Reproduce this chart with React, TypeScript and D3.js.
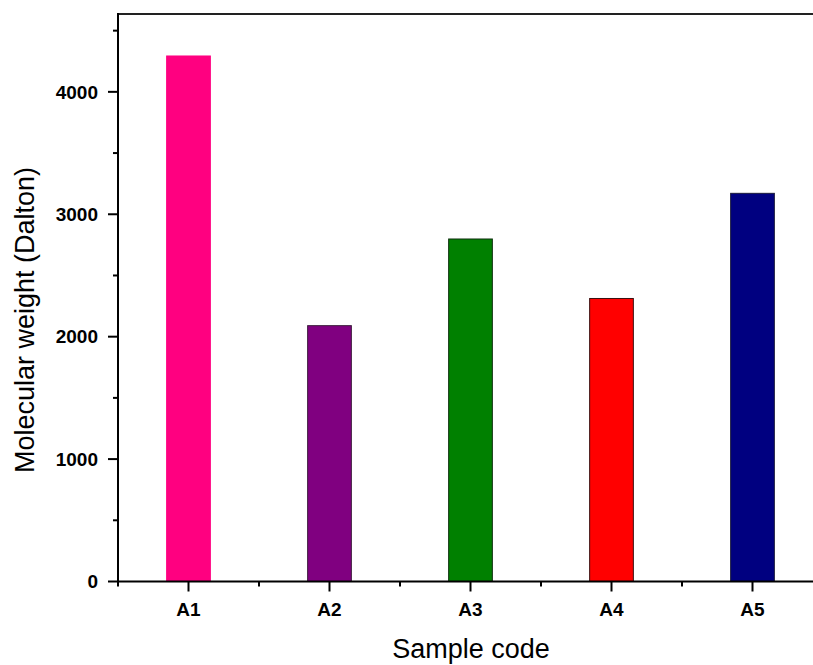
import React from "react";
import * as d3 from "d3";

const categories = ["A1", "A2", "A3", "A4", "A5"];
const values = [4293, 2090, 2798, 2312, 3171];
const barColors = ["#FF0080", "#800080", "#008000", "#FF0000", "#000080"];
const barStrokes = ["#FF0080", "#3a1a3a", "#0f2f0f", "#3a1010", "#1a1a3a"];
const yMajorTicks = [0, 1000, 2000, 3000, 4000];
const yMinorTicks = [500, 1500, 2500, 3500, 4500];
const xMinorTicks = [0.5, 1.5, 2.5, 3.5, 4.5];
const yMax = 4636;

const W = 813;
const H = 665;
const left = 118;
const top = 14;
const bottom = 581.5;
const step = 141;

export default function App() {
  const x = d3.scaleLinear().domain([0.5, 5.5]).range([left, left + 5 * step]);
  const y = d3.scaleLinear().domain([0, yMax]).range([bottom, top]);
  const bw = step * 0.31;
  const font = "'Liberation Sans', Arial, Helvetica, sans-serif";
  return (
    <svg
      width={W}
      height={H}
      style={{ position: "absolute", left: 0, top: 0, background: "#fff" }}
      fontFamily={font}
    >
      <rect x={0} y={0} width={W} height={H} fill="#fff" />
      {values.map((v, i) => (
        <rect
          key={categories[i]}
          x={x(i + 1) - bw / 2}
          y={y(v)}
          width={bw}
          height={y(0) - y(v)}
          fill={barColors[i]}
          stroke={barStrokes[i]}
          strokeWidth={1}
        />
      ))}
      <line x1={left} x2={W} y1={top} y2={top} stroke="#222" strokeWidth={2} />
      <line x1={left} x2={W} y1={bottom} y2={bottom} stroke="#000" strokeWidth={2} />
      <line x1={left} x2={left} y1={top - 1} y2={bottom + 1} stroke="#000" strokeWidth={2} />
      {yMajorTicks.map((t) => (
        <g key={"ym" + t}>
          <line x1={left - 10} x2={left} y1={y(t)} y2={y(t)} stroke="#000" strokeWidth={2} />
          <text
            x={left - 20}
            y={y(t)}
            dy="0.35em"
            textAnchor="end"
            fontSize={19}
            fontWeight="bold"
          >
            {t}
          </text>
        </g>
      ))}
      {yMinorTicks.map((t) => (
        <line key={"yn" + t} x1={left - 5} x2={left} y1={y(t)} y2={y(t)} stroke="#000" strokeWidth={2} />
      ))}
      {categories.map((c, i) => (
        <g key={"xm" + c}>
          <line x1={x(i + 1)} x2={x(i + 1)} y1={bottom} y2={bottom + 10} stroke="#000" strokeWidth={2} />
          <text x={x(i + 1)} y={616} textAnchor="middle" fontSize={19} fontWeight="bold">
            {c}
          </text>
        </g>
      ))}
      {xMinorTicks.map((t) => (
        <line key={"xn" + t} x1={x(t)} x2={x(t)} y1={bottom} y2={bottom + 5} stroke="#000" strokeWidth={2} />
      ))}
      <text x={471} y={658} textAnchor="middle" fontSize={27}>
        Sample code
      </text>
      <text
        transform={`translate(34, 320) rotate(-90)`}
        textAnchor="middle"
        fontSize={27}
      >
        Molecular weight (Dalton)
      </text>
    </svg>
  );
}
